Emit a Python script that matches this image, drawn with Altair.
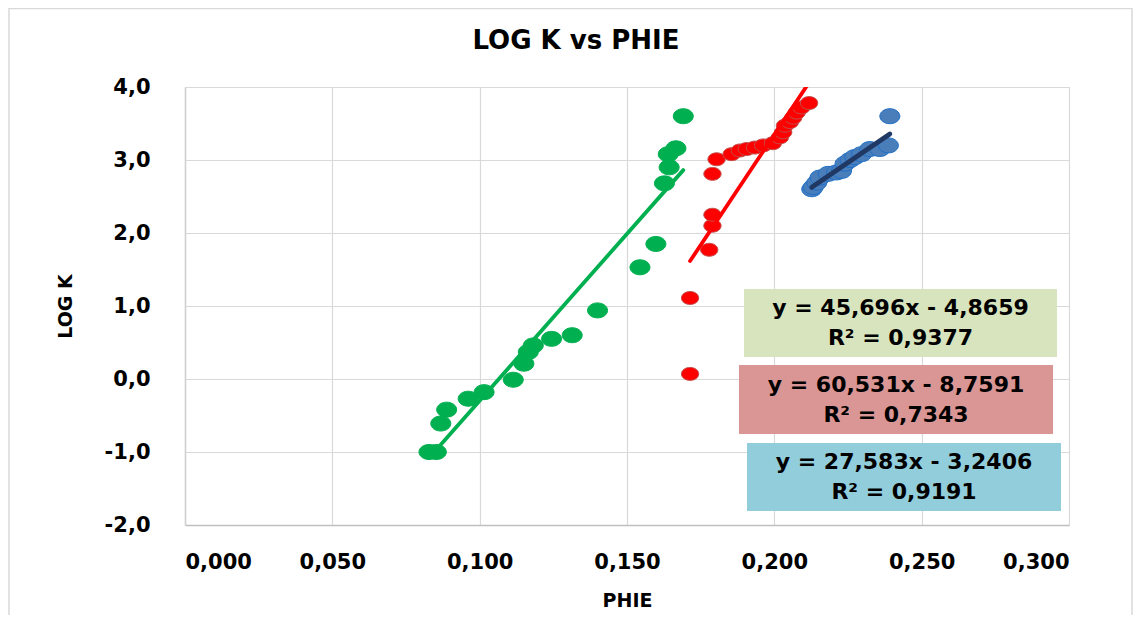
import altair as alt
import pandas as pd

# ---------------- data ----------------
green_phie = [0.0828, 0.0853, 0.0868, 0.0888, 0.0961, 0.1015, 0.1114, 0.1150, 0.1165,
              0.1182, 0.1244, 0.1314, 0.1400, 0.1544, 0.1598, 0.1627, 0.1643, 0.1640,
              0.1666, 0.1691]
green_logk = [-1.00, -1.00, -0.61, -0.42, -0.27, -0.18, -0.01, 0.21, 0.37,
              0.46, 0.55, 0.60, 0.94, 1.53, 1.85, 2.68, 2.90, 3.08,
              3.16, 3.60]

red_phie = [0.1714, 0.1714, 0.1779, 0.1790, 0.1790, 0.1790, 0.1804, 0.1855, 0.1883,
            0.1906, 0.1934, 0.1962, 0.1995, 0.2019, 0.2030, 0.2036, 0.2053, 0.2064,
            0.2076, 0.2092, 0.2118]
red_logk = [0.07, 1.11, 1.77, 2.10, 2.25, 2.81, 3.01, 3.08, 3.13,
            3.15, 3.17, 3.20, 3.23, 3.31, 3.38, 3.47, 3.52, 3.58,
            3.65, 3.72, 3.78]

blue_phie = [0.2127, 0.2132, 0.2144, 0.2155, 0.2183, 0.2211, 0.2228, 0.2240, 0.2257,
             0.2273, 0.2296, 0.2324, 0.2358, 0.2387, 0.2392]
blue_logk = [2.60, 2.63, 2.69, 2.76, 2.81, 2.83, 2.85, 2.95, 3.00,
             3.04, 3.08, 3.15, 3.15, 3.20, 3.60]

trend_slope = [45.696, 60.531, 27.583]
trend_intercept = [-4.8659, -8.7591, -3.2406]
eq_text = ["y = 45,696x - 4,8659", "y = 60,531x - 8,7591", "y = 27,583x - 3,2406"]
r2_text = ["R\u00b2 = 0,9377", "R\u00b2 = 0,7343", "R\u00b2 = 0,9191"]

title_text = "LOG K vs PHIE"
x_ticks = [0.0, 0.05, 0.10, 0.15, 0.20, 0.25, 0.30]
y_ticks = [-2, -1, 0, 1, 2, 3, 4]

# ---------------- styles ----------------
FONT = "DejaVu Sans"
point_fill = ["#00B050", "#FF0000", "#4A7EBB"]
point_stroke = ["#00B050", "#C0504D", "#1F6FC8"]
point_size = [400, 300, 400]
line_color = ["#00B050", "#FF0000", "#1F3864"]
line_width = [3.8, 3.8, 4.8]
box_fill = ["#D7E4BD", "#DA9694", "#92CDDC"]
# annotation boxes (pixels relative to plot area): x1, x2, y1, y2
box_pos = [(559, 872, 202, 270), (554, 868, 278, 347), (562, 876, 356, 424)]
ELLIPSE = "M-1,0A1,0.75,0,1,1,1,0A1,0.75,0,1,1,-1,0Z"

series_phie = [green_phie, red_phie, blue_phie]
series_logk = [green_logk, red_logk, blue_logk]

x_enc = alt.X(
    "phie:Q",
    scale=alt.Scale(domain=[0, 0.3], nice=False, zero=False),
    axis=alt.Axis(
        values=x_ticks,
        labelExpr="replace(format(datum.value, '.3f'), '.', ',')",
        labelFont=FONT, labelFontSize=21, labelFontWeight="bold", labelColor="#000000",
        labelPadding=26, ticks=False, tickSize=0,
        domainColor="#BFBFBF", domainWidth=1.5,
        grid=True, gridColor="#D9D9D9", gridWidth=1.2,
        titleFont=FONT, titleFontSize=19, titleFontWeight="bold", titleColor="#000000",
        titleY=81, titleBaseline="alphabetic",
    ),
    title="PHIE",
)
y_enc = alt.Y(
    "logk:Q",
    scale=alt.Scale(domain=[-2, 4], nice=False, zero=False),
    axis=alt.Axis(
        values=y_ticks,
        labelExpr="replace(replace(format(datum.value, '.1f'), '.', ','), '\u2212', '-')",
        labelFont=FONT, labelFontSize=21, labelFontWeight="bold", labelColor="#000000",
        labelPadding=35, ticks=False, tickSize=0,
        domainColor="#D0D0D0", domainWidth=1.5,
        grid=True, gridColor="#D9D9D9", gridWidth=1.2,
        titleFont=FONT, titleFontSize=19, titleFontWeight="bold", titleColor="#000000",
        titleX=-120, titleY=219, titleAngle=-90, titleAlign="center", titleBaseline="middle",
    ),
    title="LOG K",
)

one = pd.DataFrame({"a": [0]})
layers = []

# outer chart frame
frame = alt.Chart(one).mark_rect(
    filled=False, stroke="#D9D9D9", strokeWidth=1.5, clip=False
).encode(x=alt.value(-176), x2=alt.value(947), y=alt.value(-78.5), y2=alt.value(620))
layers.append(frame)

# chart title
layers.append(
    alt.Chart(one).mark_text(
        text=title_text, font=FONT, fontSize=26, fontWeight="bold", color="#000000",
        align="center", baseline="alphabetic", clip=False
    ).encode(x=alt.value(391), y=alt.value(-38))
)

# scatter points
for i in range(3):
    df = pd.DataFrame({"phie": series_phie[i], "logk": series_logk[i]})
    layers.append(
        alt.Chart(df).mark_point(
            filled=True, shape=ELLIPSE, size=point_size[i], fill=point_fill[i],
            stroke=point_stroke[i], strokeWidth=1, opacity=1, fillOpacity=1
        ).encode(x=x_enc, y=y_enc)
    )

# trendlines (from the fitted equations over each series' range)
for i in range(3):
    xs = [min(series_phie[i]), max(series_phie[i])]
    ys = [trend_slope[i] * v + trend_intercept[i] for v in xs]
    df = pd.DataFrame({"phie": xs, "logk": ys})
    layers.append(
        alt.Chart(df).mark_line(
            color=line_color[i], strokeWidth=line_width[i], strokeCap="round", clip=True
        ).encode(x=x_enc, y=y_enc)
    )

# equation boxes
for i in range(3):
    x1, x2, y1, y2 = box_pos[i]
    layers.append(
        alt.Chart(one).mark_rect(fill=box_fill[i], clip=False).encode(
            x=alt.value(x1), x2=alt.value(x2), y=alt.value(y1), y2=alt.value(y2)
        )
    )
    cx = (x1 + x2) / 2
    cy = (y1 + y2) / 2
    for txt, dy in ((eq_text[i], -15), (r2_text[i], 15)):
        layers.append(
            alt.Chart(one).mark_text(
                text=txt, font=FONT, fontSize=22, fontWeight="bold", color="#000000",
                align="center", baseline="middle", clip=False
            ).encode(x=alt.value(cx), y=alt.value(cy + dy))
        )

chart = alt.layer(*layers).properties(
    width=884,
    height=438,
    autosize=alt.AutoSizeParams(type="none"),
    padding={"left": 177, "top": 79, "right": 64, "bottom": 90},
).configure_view(stroke=None).configure(background="#FFFFFF")

chart.save("out.html", embed_options={"renderer": "svg", "actions": False})
